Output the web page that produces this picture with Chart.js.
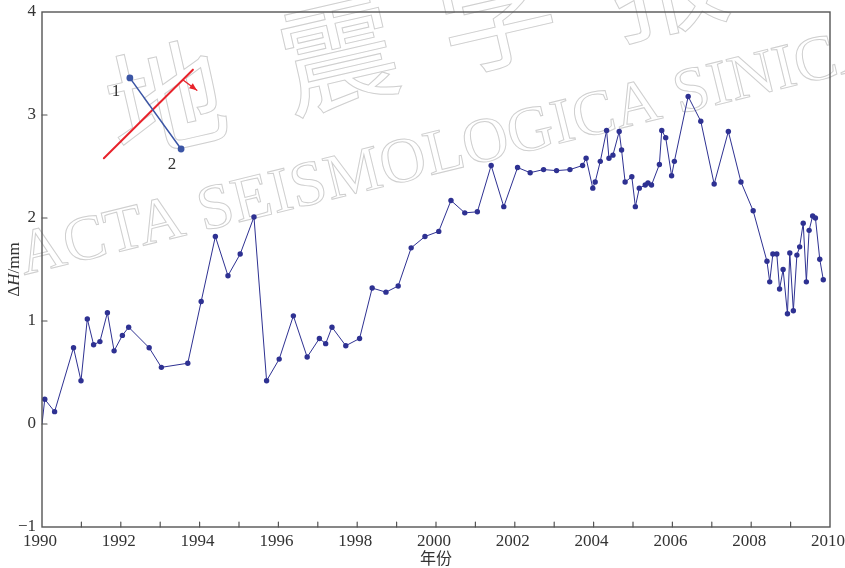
<!DOCTYPE html>
<html>
<head>
<meta charset="utf-8">
<script src="https://cdn.jsdelivr.net/npm/chart.js@4/dist/chart.umd.min.js"></script>
<style>
  html, body { margin: 0; padding: 0; background: #fff; }
  #wrap { width: 845px; height: 568px; }
</style>
</head>
<body>
<div id="wrap"><canvas id="c" width="845" height="568"></canvas></div>
<script>
// Horizontal displacement difference ΔH (mm) across the fault, by decimal year
const years = [
  1990.00, 1990.07, 1990.32, 1990.80, 1990.99, 1991.15, 1991.31, 1991.47, 1991.66, 1991.83,
  1992.04, 1992.20, 1992.72, 1993.03, 1993.70, 1994.04, 1994.40, 1994.72, 1995.03, 1995.38,
  1995.70, 1996.02, 1996.38, 1996.73, 1997.04, 1997.20, 1997.36, 1997.71, 1998.06, 1998.38,
  1998.73, 1999.04, 1999.37, 1999.72, 2000.07, 2000.38, 2000.73, 2001.05, 2001.40, 2001.72,
  2002.07, 2002.39, 2002.73, 2003.06, 2003.40, 2003.72, 2003.81, 2003.98, 2004.04, 2004.17,
  2004.33, 2004.39, 2004.49, 2004.65, 2004.71, 2004.80, 2004.97, 2005.06, 2005.16, 2005.31,
  2005.38, 2005.47, 2005.67, 2005.73, 2005.83, 2005.98, 2006.05, 2006.40, 2006.72, 2007.06,
  2007.42, 2007.74, 2008.05, 2008.40, 2008.47, 2008.55, 2008.65, 2008.72, 2008.81, 2008.92,
  2008.98, 2009.07, 2009.16, 2009.23, 2009.32, 2009.40, 2009.47, 2009.56, 2009.63, 2009.74,
  2009.83
];
const deltaH = [
  0.00, 0.24, 0.12, 0.74, 0.42, 1.02, 0.77, 0.80, 1.08, 0.71,
  0.86, 0.94, 0.74, 0.55, 0.59, 1.19, 1.82, 1.44, 1.65, 2.01,
  0.42, 0.63, 1.05, 0.65, 0.83, 0.78, 0.94, 0.76, 0.83, 1.32,
  1.28, 1.34, 1.71, 1.82, 1.87, 2.17, 2.05, 2.06, 2.51, 2.11,
  2.49, 2.44, 2.47, 2.46, 2.47, 2.51, 2.58, 2.29, 2.35, 2.55,
  2.85, 2.58, 2.61, 2.84, 2.66, 2.35, 2.40, 2.11, 2.29, 2.32,
  2.34, 2.32, 2.52, 2.85, 2.78, 2.41, 2.55, 3.18, 2.94, 2.33,
  2.84, 2.35, 2.07, 1.58, 1.38, 1.65, 1.65, 1.31, 1.50, 1.07,
  1.66, 1.10, 1.64, 1.72, 1.95, 1.38, 1.88, 2.02, 2.00, 1.60,
  1.40
];

// Axis ranges and tick spacing
const xRange = [1990, 2010];
const yRange = [-1, 4];
const yearLabelStep = 2;
const yearTickStep = 1;
const valueStep = 1;

// Axis titles
const xTitle = '年份';
const yTitleParts = [['Δ', 'normal'], ['H', 'italic'], ['/mm', 'normal']];

// Journal watermark
const watermarkLatin = 'ACTA SEISMOLOGICA SINICA';
const watermarkHan = ['地', '震', '学', '报'];

// Small sketch of the survey line crossing the fault (data units)
const traceLine = [[1992.23, 3.36], [1993.53, 2.67]];
const traceLabels = [['1', 1991.88, 3.23], ['2', 1993.30, 2.52]];
const faultLine = [[1991.57, 2.58], [1993.83, 3.44]];
const faultArrow = [[1993.58, 3.34], [1993.93, 3.24]];

const SERIF = '"Liberation Serif", "Times New Roman", serif';
const INK = '#333333';
const FRAME = '#555555';
const SERIES = '#2e3192';

const points = years.map((x, i) => ({ x: x, y: deltaH[i] }));

const watermarkPlugin = {
  id: 'watermark',
  beforeDraw(chart) {
    const ctx = chart.ctx;
    ctx.save();
    ctx.fillStyle = '#ffffff';
    ctx.fillRect(0, 0, chart.width, chart.height);

    ctx.strokeStyle = '#cfcfcf';
    ctx.lineWidth = 1;

    // Latin title along a rising baseline
    ctx.font = '100px ' + SERIF;
    const w100 = ctx.measureText(watermarkLatin.slice(0, -1)).width;
    const size = 100 * 841 / w100;
    ctx.save();
    ctx.translate(24, 275);
    ctx.rotate(-13.8 * Math.PI / 180);
    ctx.font = size + 'px ' + SERIF;
    ctx.textBaseline = 'alphabetic';
    ctx.textAlign = 'left';
    ctx.strokeText(watermarkLatin, 0, 0);
    ctx.restore();

    // Chinese title characters
    const centres = [[166, 99], [338, 54], [497, 14], [667, -20]];
    ctx.font = '118px "Noto Sans CJK SC", sans-serif';
    ctx.textAlign = 'center';
    ctx.textBaseline = 'middle';
    watermarkHan.forEach((ch, i) => {
      ctx.save();
      ctx.translate(centres[i][0], centres[i][1]);
      ctx.rotate(-13 * Math.PI / 180);
      ctx.strokeText(ch, 0, 0);
      ctx.restore();
    });
    ctx.restore();
  }
};

const framePlugin = {
  id: 'frame',
  afterDraw(chart) {
    const ctx = chart.ctx;
    const a = chart.chartArea;
    const xs = chart.scales.x, ys = chart.scales.y;
    ctx.save();

    // inset sketch
    const px = p => [xs.getPixelForValue(p[0]), ys.getPixelForValue(p[1])];
    ctx.lineCap = 'round';
    let f0 = px(faultLine[0]), f1 = px(faultLine[1]);
    ctx.strokeStyle = '#e8232b';
    ctx.lineWidth = 2;
    ctx.beginPath(); ctx.moveTo(f0[0], f0[1]); ctx.lineTo(f1[0], f1[1]); ctx.stroke();
    let a0 = px(faultArrow[0]), a1 = px(faultArrow[1]);
    ctx.lineWidth = 1.3;
    ctx.beginPath(); ctx.moveTo(a0[0], a0[1]); ctx.lineTo(a1[0], a1[1]); ctx.stroke();
    const ang = Math.atan2(a1[1] - a0[1], a1[0] - a0[0]);
    ctx.fillStyle = '#e8232b';
    ctx.beginPath();
    ctx.moveTo(a1[0], a1[1]);
    ctx.lineTo(a1[0] - 8 * Math.cos(ang - 0.4), a1[1] - 8 * Math.sin(ang - 0.4));
    ctx.lineTo(a1[0] - 8 * Math.cos(ang + 0.4), a1[1] - 8 * Math.sin(ang + 0.4));
    ctx.closePath(); ctx.fill();

    let t0 = px(traceLine[0]), t1 = px(traceLine[1]);
    ctx.strokeStyle = '#3b55a5';
    ctx.fillStyle = '#3b55a5';
    ctx.lineWidth = 1.5;
    ctx.beginPath(); ctx.moveTo(t0[0], t0[1]); ctx.lineTo(t1[0], t1[1]); ctx.stroke();
    [t0, t1].forEach(p => { ctx.beginPath(); ctx.arc(p[0], p[1], 3.4, 0, Math.PI * 2); ctx.fill(); });

    ctx.fillStyle = INK;
    ctx.font = '17px ' + SERIF;
    ctx.textAlign = 'center';
    ctx.textBaseline = 'middle';
    traceLabels.forEach(l => {
      const p = px([l[1], l[2]]);
      ctx.fillText(l[0], p[0], p[1]);
    });

    // frame
    ctx.strokeStyle = FRAME;
    ctx.lineWidth = 1.4;
    ctx.strokeRect(a.left, a.top, a.right - a.left, a.bottom - a.top);

    // inward ticks
    ctx.lineWidth = 1.2;
    ctx.beginPath();
    for (let yr = xRange[0] + yearTickStep; yr < xRange[1]; yr += yearTickStep) {
      const x = xs.getPixelForValue(yr);
      ctx.moveTo(x, a.bottom); ctx.lineTo(x, a.bottom - 5);
    }
    for (let v = yRange[0] + valueStep; v < yRange[1]; v += valueStep) {
      const y = ys.getPixelForValue(v);
      ctx.moveTo(a.left, y); ctx.lineTo(a.left + 5, y);
    }
    ctx.stroke();

    // axis titles
    ctx.fillStyle = INK;
    ctx.font = '16px "Noto Sans CJK SC", sans-serif';
    ctx.textAlign = 'center';
    ctx.textBaseline = 'middle';
    ctx.fillText(xTitle, (a.left + a.right) / 2, 558);

    ctx.save();
    ctx.translate(15, (a.top + a.bottom) / 2);
    ctx.rotate(-Math.PI / 2);
    const fontFor = st => (st === 'italic' ? 'italic ' : '') + '17px ' + SERIF;
    let total = 0;
    yTitleParts.forEach(p => { ctx.font = fontFor(p[1]); total += ctx.measureText(p[0]).width; });
    let cx = -total / 2;
    ctx.textAlign = 'left';
    yTitleParts.forEach(p => {
      ctx.font = fontFor(p[1]);
      ctx.fillText(p[0], cx, 0);
      cx += ctx.measureText(p[0]).width;
    });
    ctx.restore();

    ctx.restore();
  }
};

new Chart(document.getElementById('c'), {
  type: 'line',
  data: {
    datasets: [{
      data: points,
      borderColor: SERIES,
      backgroundColor: SERIES,
      borderWidth: 1,
      pointRadius: ctx => (ctx.dataIndex === 0 ? 0 : 2.7),
      pointBorderWidth: 0,
      pointBackgroundColor: SERIES,
      tension: 0,
      fill: false
    }]
  },
  options: {
    responsive: false,
    animation: false,
    devicePixelRatio: 1,
    layout: { padding: { top: 12, right: 15, left: 0, bottom: 0 } },
    plugins: { legend: { display: false }, tooltip: { enabled: false } },
    scales: {
      x: {
        type: 'linear',
        min: xRange[0], max: xRange[1],
        grid: { display: false, drawTicks: false },
        border: { display: false },
        ticks: {
          stepSize: yearLabelStep, padding: 4, maxRotation: 0, autoSkip: false,
          labelOffset: -2,
          color: INK, font: { family: SERIF, size: 17 },
          callback: v => String(v)
        },
        afterFit: s => { s.height = 41; s.paddingLeft = 0; s.paddingRight = 0; }
      },
      y: {
        min: yRange[0], max: yRange[1],
        grid: { display: false, drawTicks: false },
        border: { display: false },
        ticks: {
          stepSize: valueStep, padding: 6,
          color: INK, font: { family: SERIF, size: 17 },
          callback: v => (v < 0 ? '\u2212' + Math.abs(v) : String(v))
        },
        afterFit: s => { s.width = 42; s.paddingTop = 0; s.paddingBottom = 0; }
      }
    }
  },
  plugins: [watermarkPlugin, framePlugin]
});
</script>
</body>
</html>
